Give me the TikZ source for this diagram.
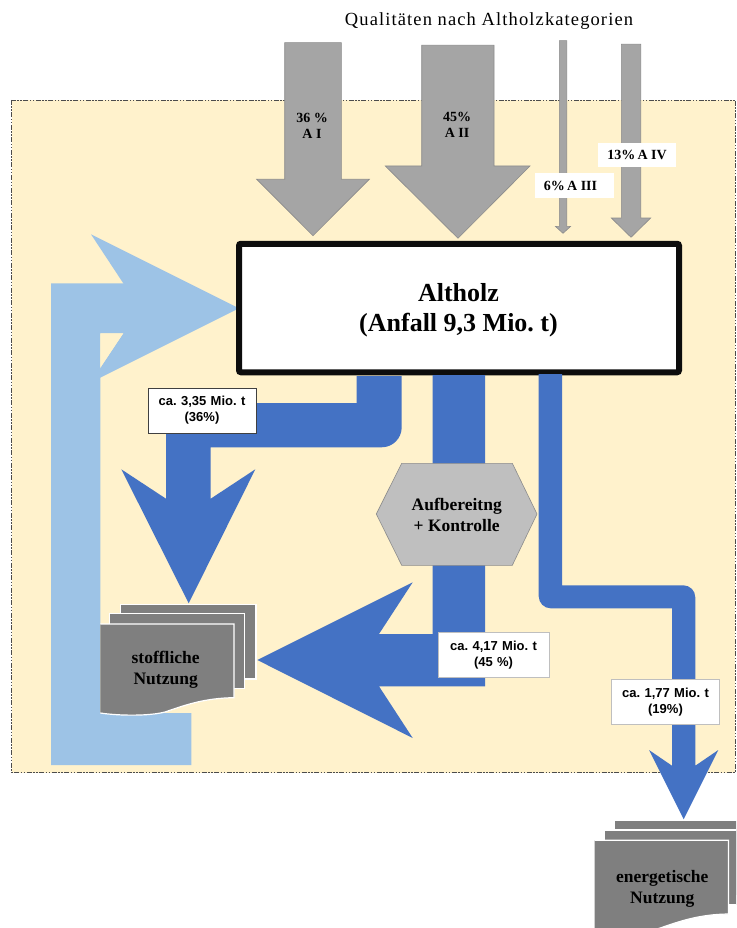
\documentclass[tikz,border=0pt]{standalone}
\usepackage{fontspec}
\setmainfont{Liberation Serif}
\setsansfont{Liberation Sans}
\newfontfamily\titlefont[LetterSpace=6]{Liberation Serif}
\definecolor{feldgelb}{HTML}{FFF2CC}
\definecolor{grauPfeil}{HTML}{A5A5A5}
\definecolor{hellblau}{HTML}{9DC3E6}
\definecolor{dunkelblau}{HTML}{4472C4}
\definecolor{grauBlatt}{HTML}{7F7F7F}
\definecolor{grauSechseck}{HTML}{BFBFBF}
\tikzset{
    graupfeil/.style={fill=grauPfeil, draw=black!45, line width=0.6pt},
    blaupfeil/.style={fill=dunkelblau},
    blatt/.style={fill=grauBlatt, draw=white, line width=1.2pt},
    anteil/.style={font=\rmfamily\bfseries\fontsize{14}{16}\selectfont, align=center, inner sep=0pt},
    anteilbox/.style={fill=white, font=\rmfamily\bfseries\fontsize{14}{16}\selectfont, inner sep=0pt, align=center},
    menge/.style={fill=white, draw=black!25, line width=0.7pt, font=\sffamily\bfseries\fontsize{13}{16}\selectfont,
        align=center, inner sep=0pt, text width=108pt, minimum height=45pt},
    nutzung/.style={font=\rmfamily\bfseries\fontsize{17.5}{21}\selectfont, align=center, inner sep=0pt},
}
\newcommand{\blattstapel}[2]{
    \begin{scope}[shift={(#1,#2)}]
        \draw[blatt] (120.3,604.3) rectangle (256,679);
        \draw[blatt] (109.7,613.7) rectangle (244.7,688.7);
        \draw[blatt] (100.3,624) -- (234,624) -- (234,697.7)
            .. controls (205,698) and (185,705) .. (165,712)
            .. controls (150,716) and (120,716) .. (100.3,713);
    \end{scope}
}
\begin{document}
\frenchspacing
\begin{tikzpicture}[x=1pt, y=-1pt]
    \clip (0,0) rectangle (736,928);

    % Feld
    \fill[white] (0,0) rectangle (736,928);
    \draw[fill=feldgelb, draw=black!70, line width=0.8pt, dash pattern=on 5pt off 1.5pt on 1.5pt off 1.5pt on 1.5pt off 1.5pt]
        (11.5,100) rectangle (735,772.5);

    \node[font=\titlefont\fontsize{18.5}{20}\selectfont] (titel) at (489,21) {Qualitäten nach Altholzkategorien};

    % Altholzkategorien
    \draw[graupfeil] (284.7,42.7) -- (341.3,42.7) -- (341.3,179.3) -- (369.3,179.3) -- (313,235.7)
        -- (256.7,179.3) -- (284.7,179.3) -- cycle;
    \draw[graupfeil] (421.7,45.3) -- (494,45.3) -- (494,166) -- (530,166) -- (458,238.3)
        -- (385.3,166) -- (421.7,166) -- cycle;
    \draw[graupfeil] (559.3,40.7) -- (566.7,40.7) -- (566.7,226.3) -- (570.7,226.3) -- (563,233.3)
        -- (555.3,226.3) -- (559.3,226.3) -- cycle;
    \draw[graupfeil] (621.3,44.3) -- (640.7,44.3) -- (640.7,218) -- (650.7,218) -- (631,237.3)
        -- (611.3,218) -- (621.3,218) -- cycle;

    \node[anteil] (aeins) at (312,126) {36 \%\\A I};
    \node[anteil] (azwei) at (457,125) {45\%\\A II};
    \node[anteilbox, minimum width=79pt, minimum height=25pt] (adrei) at (574.5,185.5) {6\%\,A III\hspace*{8pt}};
    \node[anteilbox, minimum width=78pt, minimum height=24pt] (avier) at (637,155) {13\%\,A IV};

    % Rueckfuehrung
    \fill[hellblau] (191.3,713) -- (100.3,713) -- (100.3,333.3) -- (140,333.3) -- (140,283.3)
        -- (51,283.3) -- (51,765) -- (191.3,765) -- cycle;
    \fill[hellblau] (239,308.3) -- (91,234.3) -- (123.3,283.3) -- (123.3,333.3) -- (91,382.3) -- cycle;
    \fill[feldgelb] (100.3,333.3) -- (123.3,333.3) -- (100.3,367.3) -- cycle;

    % Altholz
    \node[draw=black!95, fill=white, line width=6pt, rounded corners=2pt, minimum width=440pt, minimum height=128.5pt] (altholz) at (459,308) {};
    \node[font=\rmfamily\bfseries\fontsize{26}{30}\selectfont, align=center] (anfall) at (458.5,310.5)
        {Altholz\\(Anfall 9,3 Mio. t)};

    % stoffliche Nutzung
    \fill[blaupfeil] (356.7,376) -- (401.7,376) -- (401.7,427.3) arc (0:90:20) -- (210.7,447.3) -- (210.7,498.7)
        -- (255.3,469.3) -- (188.7,603.3) -- (121.3,469.3) -- (166,498.7) -- (166,403) -- (356.7,403) -- cycle;

    % Aufbereitung
    \fill[blaupfeil] (432.7,375) -- (485,375) -- (485,686.3) -- (379,686.3) -- (412.7,738) -- (257.3,660)
        -- (412.7,582.3) -- (379,634) -- (432.7,634) -- cycle;
    \draw[draw=black!45, fill=grauSechseck, line width=0.6pt] (376.3,514) -- (401.7,463.3) -- (512.3,463.3) -- (537,514)
        -- (512.3,565.3) -- (401.7,565.3) -- cycle;
    \node[nutzung] (aufb) at (456.7,515) {Aufbereitng\\+ Kontrolle};

    % energetische Nutzung
    \fill[blaupfeil] (538.7,374) -- (562,374) -- (562,585.3) -- (683.3,585.3) arc (-90:0:12) -- (695.3,765.7)
        -- (718.3,750) -- (683.7,819.3) -- (649,750) -- (672,765.7) -- (672,608.3) -- (550.7,608.3) arc (90:180:12) -- cycle;

    % Mengen
    \node[menge, draw=black!75] (mstoff) at (202,410.5) {ca. 3,35 Mio. t\\(36\%)};
    \node[menge, text width=111pt] (maufb) at (493.5,654.8) {ca. 4,17 Mio. t\\(45 \%)};
    \node[menge] (menergie) at (665.5,701.8) {ca. 1,77 Mio. t\\(19\%)};

    % Nutzung
    \blattstapel{0}{0}
    \blattstapel{494.4}{216.3}
    \node[nutzung] (stoff) at (165.7,670) {stoffliche\\Nutzung};
    \node[nutzung] (energie) at (662.3,888.5) {energetische\\Nutzung};
\end{tikzpicture}
\end{document}
